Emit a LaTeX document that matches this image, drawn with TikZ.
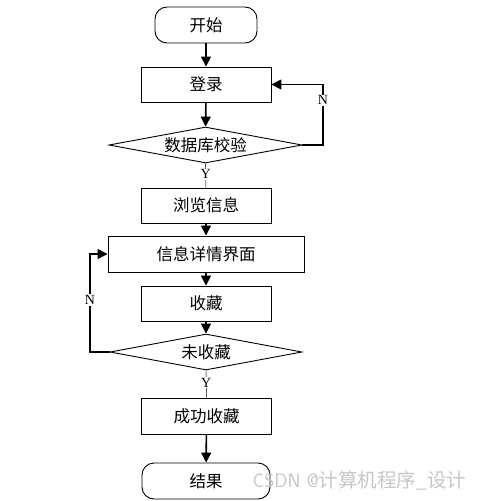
\documentclass[tikz,border=0pt]{standalone}
\usepackage{fontspec}
\setmainfont{Liberation Serif}
\newfontfamily\cjk{Noto Sans CJK SC}
\usetikzlibrary{shapes.geometric,arrows.meta}
\begin{document}
\begin{tikzpicture}[x=1pt,y=-1pt,
  box/.style={draw,line width=0.9pt,minimum width=130pt,minimum height=35pt,inner sep=0pt,font=\cjk\fontsize{16.5}{16.5}\selectfont},
  term/.style={box,rounded corners=12pt},
  dia/.style={draw,line width=0.9pt,diamond,aspect=5.3,inner sep=0pt,minimum width=193pt,minimum height=36pt,font=\cjk\fontsize{16.5}{16.5}\selectfont},
  arr/.style={line width=1.6pt,-{Triangle[length=10pt,width=10pt]}},
  lbl/.style={font=\fontsize{14}{14}\selectfont,fill=white,inner sep=1pt}]
\useasboundingbox (0,0) rectangle (486,501);
\node[term,minimum width=102pt,minimum height=36pt] (start) at (206,25) {开始};
\node[box] (login) at (206,84.5) {登录};
\node[dia] (check) at (205.5,145) {数据库校验};
\node[box] (browse) at (206,205.5) {浏览信息};
\node[box,minimum width=196pt,minimum height=36pt] (detail) at (206,254) {信息详情界面};
\node[box] (fav) at (206,303.5) {收藏};
\node[dia,minimum width=192pt] (notfav) at (206,352) {未收藏};
\node[box,minimum height=36pt] (succ) at (206.5,416) {成功收藏};
\node[term,minimum width=128pt,minimum height=36pt] (end) at (206,481) {结果};
\draw[arr] (start) -- (login);
\draw[arr] (login) -- (check);
\draw[line width=0.5pt] (check.south) -- node[lbl,pos=0.45]{Y} (browse.north);
\draw[arr] (browse) -- (detail);
\draw[arr] (detail) -- (fav);
\draw[arr] (fav) -- (notfav);
\draw[line width=0.5pt] (notfav.south) -- node[lbl,pos=0.45]{Y} (succ.north);
\draw[arr] (succ) -- (end);
\coordinate (r1) at (323,145);
\coordinate (r2) at (323,84.5);
\draw[arr] (check.east) -- (r1) -- node[lbl,pos=0.74]{N} (r2) -- (login.east);
\coordinate (l1) at (90,352);
\coordinate (l2) at (90,254);
\draw[arr] (notfav.west) -- (l1) -- node[lbl,pos=0.53]{N} (l2) -- (detail.west);
\node[font=\fontsize{19.5}{19.5}\selectfont\sffamily,text=gray!45,anchor=west] (wm) at (249,481) {CSDN @{\cjk 计算机程序\_设计}};
\end{tikzpicture}
\end{document}
